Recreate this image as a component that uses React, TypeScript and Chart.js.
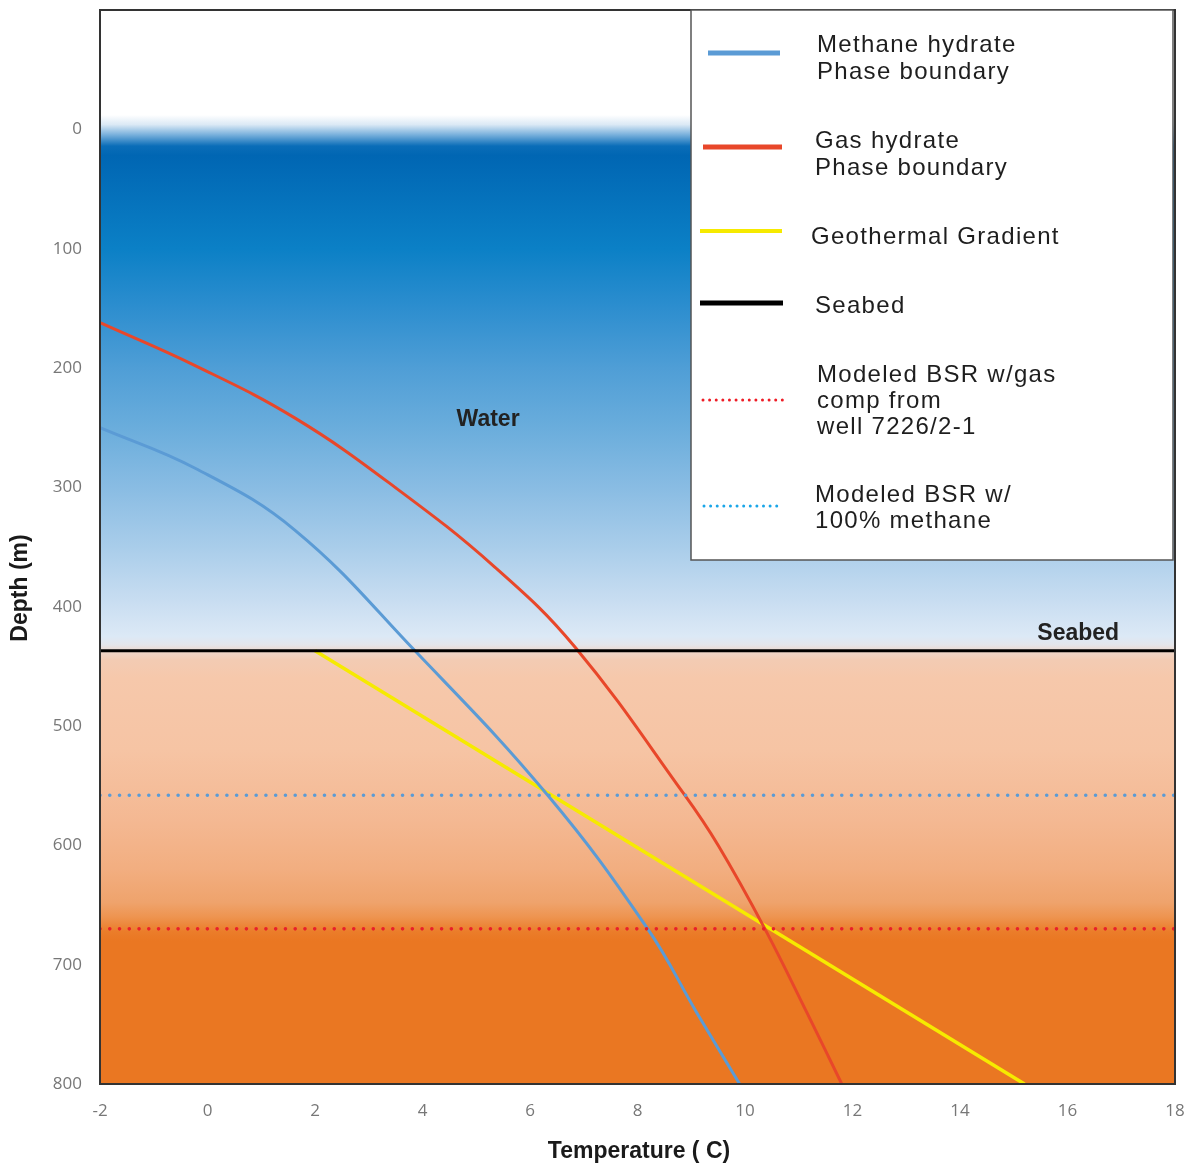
import React, { useEffect, useRef } from 'react';
import { Chart, registerables } from 'chart.js';

Chart.register(...registerables);

// ---- Data ----
const methaneTemp = [-2, -0.23, 1.63, 3.86, 6.33, 8.19, 9.1, 9.9];
const methaneDepth = [250, 284, 336, 437, 558, 670, 740, 800];

const gasTemp = [-2, -0.23, 1.63, 3.49, 5.35, 6.84, 8.88, 9.5, 10.37, 11.15, 11.8];
const gasDepth = [162, 198, 242, 300, 367, 434, 558, 600, 670, 740, 800];

const geoTemp = [2.0, 15.2];
const geoDepth = [437, 800];

const seabedDepth = 437;
const bsrMethaneDepth = 558;
const bsrGasDepth = 670;

const xMin = -2;
const xMax = 18;
const yMin = -100;
const yMax = 800;

const waterLabel = { text: 'Water', t: 5.22, d: 243 };
const seabedLabel = { text: 'Seabed', t: 16.2, d: 423 };

const legendItems = [
  { lines: ['Methane hydrate', 'Phase boundary'], color: '#5b9bd5', dash: false, width: 5 },
  { lines: ['Gas hydrate', 'Phase boundary'], color: '#e8472a', dash: false, width: 5 },
  { lines: ['Geothermal Gradient'], color: '#f6ea00', dash: false, width: 4 },
  { lines: ['Seabed'], color: '#000000', dash: false, width: 5 },
  { lines: ['Modeled BSR w/gas', 'comp from', 'well 7226/2-1'], color: '#ee1c25', dash: true, width: 3 },
  { lines: ['Modeled BSR w/', '100% methane'], color: '#1aa6e8', dash: true, width: 3 },
];
// legend layout (pixels)
const legendBox = { x: 691, y: 10, w: 482, h: 550 };
const legendSamples = [
  { x1: 708, x2: 780, y: 53 },
  { x1: 703, x2: 782, y: 147 },
  { x1: 700, x2: 782, y: 231 },
  { x1: 700, x2: 783, y: 303 },
  { x1: 703, x2: 787, y: 400 },
  { x1: 704, x2: 782, y: 506 },
];
const legendText = [
  { x: 817, ys: [52, 79] },
  { x: 815, ys: [148, 175] },
  { x: 811, ys: [244] },
  { x: 815, ys: [313] },
  { x: 817, ys: [382, 408, 434] },
  { x: 815, ys: [502, 528] },
];

const bgStops: [number, string][] = [
  [-100, '#ffffff'],
  [-12, '#ffffff'],
  [-4, '#dbe9f5'],
  [4, '#7fb4de'],
  [14, '#0a6db8'],
  [22, '#0066b3'],
  [100, '#0b80c6'],
  [150, '#2d8ecf'],
  [200, '#4f9ed6'],
  [250, '#6aaddc'],
  [300, '#89bce3'],
  [350, '#a9cdea'],
  [395, '#c8ddf1'],
  [425, '#dce9f6'],
  [432, '#e4e5ea'],
  [438, '#eed6c9'],
  [445, '#f3cbb3'],
  [460, '#f6c8ab'],
  [520, '#f6c4a4'],
  [580, '#f4b892'],
  [620, '#f2ae80'],
  [648, '#efa36c'],
  [660, '#ee9450'],
  [672, '#eb7d2a'],
  [680, '#ea7722'],
  [800, '#ea7722'],
];

const zip = (xs: number[], ys: number[]) => xs.map((x, i) => ({ x, y: ys[i] }));

const bgPlugin = {
  id: 'bgPlugin',
  beforeDatasetsDraw(chart: any) {
    const { ctx, chartArea, scales } = chart;
    const y = scales.y;
    const y0 = y.getPixelForValue(yMin);
    const y1 = y.getPixelForValue(yMax);
    const g = ctx.createLinearGradient(0, y0, 0, y1);
    bgStops.forEach(([d, c]) => g.addColorStop((d - yMin) / (yMax - yMin), c));
    ctx.save();
    ctx.fillStyle = g;
    ctx.fillRect(chartArea.left, chartArea.top, chartArea.right - chartArea.left, chartArea.bottom - chartArea.top);
    ctx.restore();
  },
  afterDatasetsDraw(chart: any) {
    const { ctx, chartArea, scales } = chart;
    ctx.save();
    // frame
    ctx.strokeStyle = '#333333';
    ctx.lineWidth = 2;
    ctx.strokeRect(chartArea.left, chartArea.top, chartArea.right - chartArea.left, chartArea.bottom - chartArea.top);

    // annotations
    ctx.fillStyle = '#222222';
    ctx.font = 'bold 23px "Liberation Sans", Arial, sans-serif';
    ctx.textAlign = 'center';
    ctx.textBaseline = 'middle';
    ctx.fillText(waterLabel.text, scales.x.getPixelForValue(waterLabel.t), scales.y.getPixelForValue(waterLabel.d));
    ctx.fillText(seabedLabel.text, scales.x.getPixelForValue(seabedLabel.t), scales.y.getPixelForValue(seabedLabel.d));

    // legend box
    ctx.fillStyle = '#ffffff';
    ctx.fillRect(legendBox.x, legendBox.y, legendBox.w, legendBox.h);
    ctx.strokeStyle = '#555555';
    ctx.lineWidth = 1.5;
    ctx.strokeRect(legendBox.x, legendBox.y, legendBox.w, legendBox.h);

    legendItems.forEach((item, i) => {
      const s = legendSamples[i];
      ctx.beginPath();
      ctx.strokeStyle = item.color;
      ctx.lineWidth = item.width;
      if (item.dash) {
        ctx.setLineDash([0.01, 6.6]);
        ctx.lineCap = 'round';
      } else {
        ctx.setLineDash([]);
        ctx.lineCap = 'butt';
      }
      ctx.moveTo(s.x1, s.y);
      ctx.lineTo(s.x2, s.y);
      ctx.stroke();
      ctx.setLineDash([]);

      const t = legendText[i];
      ctx.fillStyle = '#1e1e1e';
      ctx.font = '24px "Liberation Sans", Arial, sans-serif';
      (ctx as any).letterSpacing = '1.3px';
      ctx.textAlign = 'left';
      ctx.textBaseline = 'alphabetic';
      item.lines.forEach((ln, j) => ctx.fillText(ln, t.x, t.ys[j]));
      (ctx as any).letterSpacing = '0px';
    });

    // axis titles
    ctx.fillStyle = '#1a1a1a';
    ctx.font = 'bold 23px "Liberation Sans", Arial, sans-serif';
    ctx.textAlign = 'center';
    ctx.textBaseline = 'middle';
    ctx.fillText('Temperature ( C)', 639, 1152);
    ctx.save();
    ctx.translate(21, 588);
    ctx.rotate(-Math.PI / 2);
    ctx.fillText('Depth (m)', 0, 0);
    ctx.restore();

    ctx.restore();
  },
};

export default function App() {
  const ref = useRef<HTMLCanvasElement>(null);

  useEffect(() => {
    if (!ref.current) return;
    const tickFont = { family: '"Open Sans", "Noto Sans", sans-serif', size: 17 };
    const curveCommon = {
      showLine: true,
      borderWidth: 3,
      tension: 0.4,
      pointRadius: 0,
    };
    const chart = new Chart(ref.current, {
      type: 'scatter',
      data: {
        datasets: [
          {
            label: 'Modeled BSR w/ 100% methane',
            data: [{ x: xMin, y: bsrMethaneDepth }, { x: xMax, y: bsrMethaneDepth }],
            showLine: true,
            borderColor: '#5b9bd5',
            borderWidth: 3.6,
            borderDash: [0.01, 9.75],
            borderCapStyle: 'round',
            pointRadius: 0,
          },
          {
            label: 'Modeled BSR w/gas comp from well 7226/2-1',
            data: [{ x: xMin, y: bsrGasDepth }, { x: xMax, y: bsrGasDepth }],
            showLine: true,
            borderColor: '#e8202a',
            borderWidth: 3.6,
            borderDash: [0.01, 9.75],
            borderCapStyle: 'round',
            pointRadius: 0,
          },
          {
            label: 'Seabed',
            data: [{ x: xMin, y: seabedDepth }, { x: xMax, y: seabedDepth }],
            showLine: true,
            borderColor: '#000000',
            borderWidth: 3,
            pointRadius: 0,
          },
          {
            ...curveCommon,
            label: 'Methane hydrate Phase boundary',
            data: zip(methaneTemp, methaneDepth),
            borderColor: '#5b9bd5',
          },
          {
            ...curveCommon,
            label: 'Gas hydrate Phase boundary',
            data: zip(gasTemp, gasDepth),
            borderColor: '#e8472a',
          },
          {
            label: 'Geothermal Gradient',
            data: zip(geoTemp, geoDepth),
            showLine: true,
            borderColor: '#f6ea00',
            borderWidth: 3.5,
            pointRadius: 0,
          },
        ],
      } as any,
      options: {
        responsive: false,
        animation: false,
        layout: { autoPadding: false, padding: { top: 10, right: 20, left: 0, bottom: 0 } },
        plugins: {
          legend: { display: false },
          tooltip: { enabled: false },
        },
        scales: {
          x: {
            type: 'linear',
            min: xMin,
            max: xMax,
            grid: { display: false, drawTicks: false },
            border: { display: false },
            ticks: { stepSize: 2, font: tickFont, color: '#777777', padding: 17 },
            afterFit: (s: any) => {
              s.height = 83;
              s.paddingLeft = 0;
              s.paddingRight = 0;
              s.paddingTop = 0;
              s.paddingBottom = 0;
            },
          },
          y: {
            type: 'linear',
            reverse: true,
            min: yMin,
            max: yMax,
            grid: { display: false, drawTicks: false },
            border: { display: false },
            ticks: {
              stepSize: 100,
              font: tickFont,
              color: '#777777',
              padding: 18,
              callback: (v: any) => (Number(v) < 0 ? '' : String(v)),
            },
            afterFit: (s: any) => {
              s.width = 100;
              s.paddingLeft = 0;
              s.paddingRight = 0;
              s.paddingTop = 0;
              s.paddingBottom = 0;
            },
          },
        },
      } as any,
      plugins: [bgPlugin],
    });
    return () => chart.destroy();
  }, []);

  return (
    <div style={{ position: 'fixed', left: 0, top: 0, width: 1195, height: 1167, background: '#ffffff' }}>
      <canvas ref={ref} width={1195} height={1167} style={{ width: 1195, height: 1167, display: 'block' }} />
    </div>
  );
}
